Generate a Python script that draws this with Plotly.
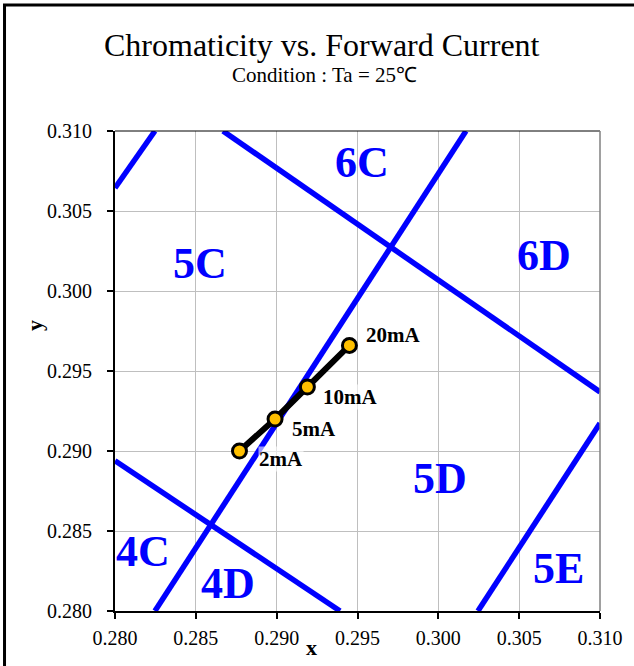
import plotly.graph_objects as go

# ---- data ----
currents = ["2mA", "5mA", "10mA", "20mA"]
cx = [0.2877, 0.2899, 0.2919, 0.2945]
cy = [0.2900, 0.2920, 0.2940, 0.2966]

# bin boundary lines (x endpoints, y endpoints)
line_A_x = [0.2800, 0.28247]
line_A_y = [0.30644, 0.3100]
line_B_x = [0.28247, 0.30171]
line_B_y = [0.2800, 0.3100]
line_C_x = [0.30245, 0.3100]
line_C_y = [0.2800, 0.29173]
line_D_x = [0.28668, 0.3100]
line_D_y = [0.3100, 0.29369]
line_E_x = [0.2800, 0.29392]
line_E_y = [0.28939, 0.2800]

bin_names = ["6C", "5C", "6D", "5D", "4C", "4D", "5E"]
bin_x = [0.29528, 0.28526, 0.30654, 0.30010, 0.28173, 0.28696, 0.30746]
bin_y = [0.30806, 0.30175, 0.30219, 0.28831, 0.28375, 0.28169, 0.28263]

tick_vals = [0.280, 0.285, 0.290, 0.295, 0.300, 0.305, 0.310]
tick_text = ["0.280", "0.285", "0.290", "0.295", "0.300", "0.305", "0.310"]

FONT = "Liberation Serif, Times New Roman, serif"

fig = go.Figure()
for lx, ly in [(line_A_x, line_A_y), (line_B_x, line_B_y), (line_C_x, line_C_y),
               (line_D_x, line_D_y), (line_E_x, line_E_y)]:
    fig.add_trace(go.Scatter(x=lx, y=ly, mode="lines",
                             line=dict(color="#0000FF", width=5.5),
                             hoverinfo="skip", showlegend=False))

fig.add_trace(go.Scatter(x=cx, y=cy, mode="lines+markers",
                         line=dict(color="black", width=6),
                         marker=dict(size=14, color="#FFC000",
                                     line=dict(color="black", width=3)),
                         showlegend=False))

annotations = []
shifts = {"2mA": (19, -8), "5mA": (16, -10), "10mA": (15, -10), "20mA": (16, 10)}
for name, x, y in zip(currents, cx, cy):
    dx, dy = shifts[name]
    annotations.append(dict(x=x, y=y, xref="x", yref="y", text="<b>%s</b>" % name,
                            showarrow=False, xanchor="left", yanchor="middle",
                            xshift=dx, yshift=dy, bgcolor="rgba(255,255,255,0.6)",
                            borderpad=0,
                            font=dict(family=FONT, size=21, color="black")))
for name, x, y in zip(bin_names, bin_x, bin_y):
    annotations.append(dict(x=x, y=y, xref="x", yref="y", text="<b>%s</b>" % name,
                            showarrow=False, xanchor="center", yanchor="middle",
                            font=dict(family=FONT, size=44, color="#0000FF")))

# titles
annotations.append(dict(x=0.427, y=1.179, xref="paper", yref="paper",
                        text="Chromaticity vs. Forward Current", showarrow=False,
                        xanchor="center", yanchor="middle",
                        font=dict(family=FONT, size=32, color="black")))
annotations.append(dict(x=0.431, y=1.117, xref="paper", yref="paper",
                        text="Condition : Ta = 25℃", showarrow=False,
                        xanchor="center", yanchor="middle",
                        font=dict(family=FONT, size=21, color="black")))
annotations.append(dict(x=0.406, y=-0.077, xref="paper", yref="paper",
                        text="<b>x</b>", showarrow=False,
                        xanchor="center", yanchor="middle",
                        font=dict(family=FONT, size=22, color="black")))
annotations.append(dict(x=-0.165, y=0.596, xref="paper", yref="paper",
                        text="<b>y</b>", showarrow=False, textangle=-90,
                        xanchor="center", yanchor="middle",
                        font=dict(family=FONT, size=22, color="black")))

shapes = [
    # outer frame
    dict(type="rect", xref="paper", yref="paper", x0=-0.2278, y0=-0.2, x1=1.2, y1=1.2625,
         line=dict(color="black", width=3), layer="below"),
    # plot top border
    dict(type="line", xref="paper", yref="paper", x0=0, x1=1, y0=1, y1=1,
         line=dict(color="black", width=1)),
    # plot right border
    dict(type="line", xref="paper", yref="paper", x0=1, x1=1, y0=0, y1=1,
         line=dict(color="#808080", width=1.5)),
]

axis_common = dict(range=[0.28, 0.31], tickvals=tick_vals, ticktext=tick_text,
                   showgrid=True, gridcolor="#BFBFBF", gridwidth=1, zeroline=False,
                   showline=True, linecolor="black", linewidth=2,
                   ticks="outside", ticklen=6, tickwidth=2, tickcolor="black",
                   tickfont=dict(family=FONT, size=20, color="black"))

fig.update_layout(
    width=634, height=666,
    margin=dict(l=115, r=34, t=131, b=55, pad=0),
    paper_bgcolor="white", plot_bgcolor="white",
    xaxis=dict(**axis_common, ticklabelstandoff=2),
    yaxis=dict(**axis_common, ticklabelstandoff=11),
    annotations=annotations, shapes=shapes,
    showlegend=False,
)

fig.write_html("out.html", config={"displayModeBar": False},
               post_script="document.body.style.margin='0';document.body.style.overflow='hidden';")
